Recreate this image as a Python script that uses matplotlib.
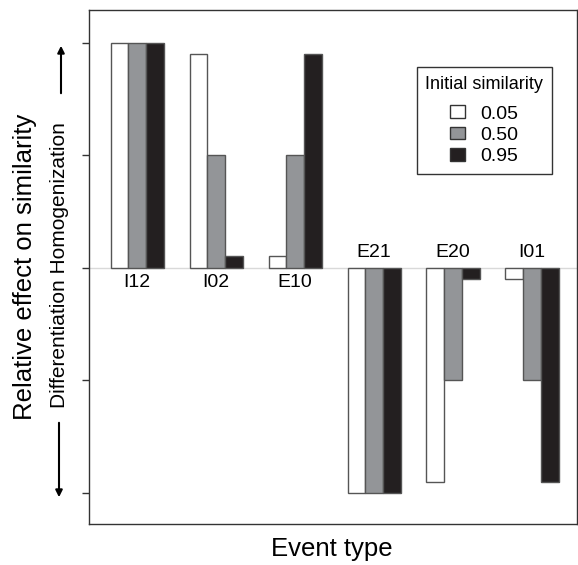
import numpy as np
import matplotlib.pyplot as plt
from matplotlib.patches import Patch

plt.rcParams['font.family'] = ['Liberation Sans', 'DejaVu Sans']

# Данные
events = ['I12', 'I02', 'E10', 'E21', 'E20', 'I01']
similarity = ['0.05', '0.50', '0.95']
effect_005 = [1.0, 0.95, 0.05, -1.0, -0.955, -0.05]
effect_050 = [1.0, 0.5, 0.5, -1.0, -0.5, -0.5]
effect_095 = [1.0, 0.05, 0.95, -1.0, -0.053, -0.955]
colors = ['white', '#939598', '#231f20']

fig = plt.figure(figsize=(5.78, 5.65), dpi=100)
ax = fig.add_axes([89 / 578, 1 - 524 / 565, (577 - 89) / 578, (524 - 10) / 565])

x = np.arange(len(events))
w = 0.224
series = [effect_005, effect_050, effect_095]
for i, vals in enumerate(series):
    ax.bar(x + (i - 1) * w, vals, width=w, color=colors[i],
           edgecolor='#555555', linewidth=1, zorder=3)

ax.axhline(0, color='#d9d9d9', linewidth=1, zorder=1)

# подписи групп
for xi, name, v in zip(x, events, effect_050):
    if v > 0:
        ax.text(xi, -0.03, name, ha='center', va='top', fontsize=14)
    else:
        ax.text(xi, 0.03, name, ha='center', va='bottom', fontsize=14)

ax.set_xlim(-0.61, 5.57)
ax.set_ylim(-1.14, 1.145)
ax.set_xticks([])
ax.set_yticks([1, 0.5, 0, -0.5, -1])
ax.set_yticklabels([])
ax.tick_params(axis='y', direction='out', length=5, width=1, color='#333333')
for s in ax.spines.values():
    s.set_color('#333333')
    s.set_linewidth(1)

handles = [Patch(facecolor=c, edgecolor='#333333', label=l) for c, l in zip(colors, similarity)]
leg = ax.legend(handles=handles, title='Initial similarity', fontsize=14,
                title_fontsize=13, loc='upper right', bbox_to_anchor=(0.949, 0.889),
                borderaxespad=0, fancybox=False, edgecolor='#333333',
                handlelength=0.75, handleheight=0.65, handletextpad=0.8,
                labelspacing=0.2, borderpad=0.45, framealpha=1)
leg.get_frame().set_linewidth(1)
leg._legend_box.sep = 9  # отступ между заголовком и элементами

# подписи оси Y и стрелки
fig.text(25 / 578, 1 - 267 / 565, 'Relative effect on similarity', rotation=90,
         ha='center', va='center', fontsize=18.5)
fig.text(60 / 578, 1 - 265 / 565, 'Differentiation Homogenization', rotation=90,
         ha='center', va='center', fontsize=15)
fig.text(332 / 578, 1 - 549 / 565, 'Event type', ha='center', va='center', fontsize=18.5)

ax.annotate('', xy=(61, 565 - 43), xycoords='figure pixels',
            xytext=(61, 565 - 96), textcoords='figure pixels',
            arrowprops=dict(arrowstyle='-|>', color='black', lw=1.5, mutation_scale=10))
ax.annotate('', xy=(59, 565 - 500), xycoords='figure pixels',
            xytext=(59, 565 - 420), textcoords='figure pixels',
            arrowprops=dict(arrowstyle='-|>', color='black', lw=1.5, mutation_scale=10))

fig.savefig('out.png', dpi=100)
